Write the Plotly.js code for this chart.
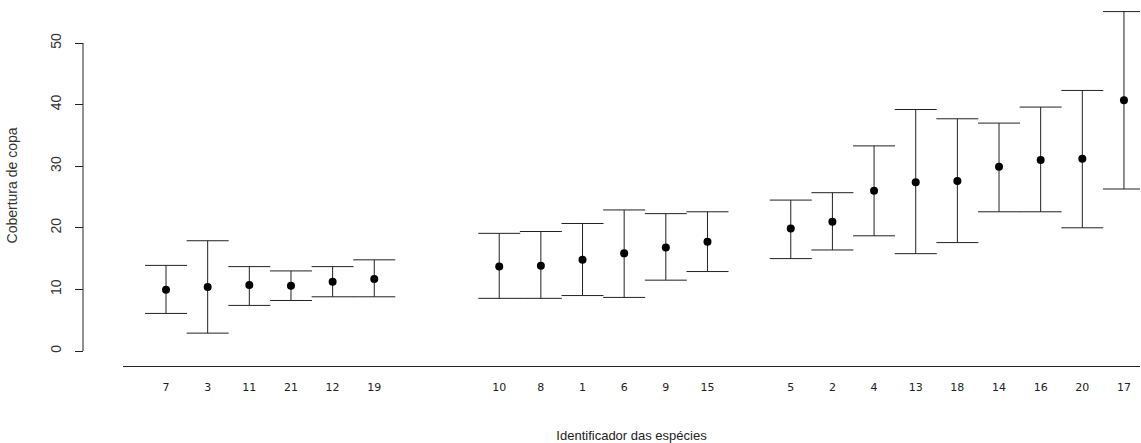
<!DOCTYPE html>
<html>
<head>
<meta charset="utf-8">
<script src="https://cdn.plot.ly/plotly-3.0.1.min.js"></script>
<style>html,body{margin:0;padding:0;background:#fff;}#chart{width:1141px;height:443px;}</style>
</head>
<body>
<div id="chart"></div>
<script>
// Category order on the x axis (gaps are empty slots)
const categoryOrder = ['7','3','11','21','12','19','gapA','gapB','10','8','1','6','9','15','gapC','5','2','4','13','18','14','16','20','17'];
const species = ['7','3','11','21','12','19','10','8','1','6','9','15','5','2','4','13','18','14','16','20','17'];
const tickLabels = ['7','3','11','21','12','19','10','8','1','6','9','15','5','2','4','13','18','14','16','20','17'];
const meanCover = [9.95,10.4,10.7,10.6,11.25,11.7,13.7,13.85,14.8,15.85,16.8,17.75,19.9,21.0,26.0,27.4,27.6,29.9,31.0,31.2,40.7];
const upperCover = [13.9,17.9,13.7,13.0,13.7,14.8,19.1,19.4,20.7,22.9,22.3,22.6,24.5,25.7,33.3,39.2,37.7,37.0,39.6,42.3,55.1];
const lowerCover = [6.1,2.9,7.4,8.2,8.8,8.8,8.55,8.55,9.0,8.7,11.5,12.9,15.0,16.4,18.7,15.8,17.6,22.6,22.6,20.0,26.3];
const yTicks = [0,10,20,30,40,50];

const errPlus = meanCover.map((m,i)=>upperCover[i]-m);
const errMinus = meanCover.map((m,i)=>m-lowerCover[i]);

const trace = {
  type:'scatter', mode:'markers',
  x: species, y: meanCover,
  marker:{color:'#000', size:8, symbol:'circle'},
  error_y:{type:'data', symmetric:false, array:errPlus, arrayminus:errMinus, color:'#222', thickness:1, width:21},
  hoverinfo:'x+y'
};

const layout = {
  width:1141, height:443,
  margin:{l:83, r:1, t:5, b:77},
  paper_bgcolor:'#fff', plot_bgcolor:'#fff',
  showlegend:false,
  font:{family:'Liberation Sans, Arial, sans-serif', color:'#333'},
  xaxis:{
    type:'category', categoryorder:'array', categoryarray:categoryOrder,
    domain:[40/1057, 1],
    range:[-1.033, 23.385],
    tickmode:'array', tickvals:species, ticktext:tickLabels,
    ticks:'', showgrid:false, zeroline:false,
    showline:true, linecolor:'#222', linewidth:1,
    tickfont:{family:'DejaVu Sans, Verdana, sans-serif', size:11, color:'#222'},
    ticklabelstandoff:11,
    title:{text:'Identificador das espécies', font:{family:'Liberation Sans, Arial, sans-serif', size:13, color:'#222'}, standoff:37}
  },
  yaxis:{
    anchor:'free', position:0,
    range:[-2.435, 56.17],
    tickmode:'array', tickvals:yTicks,
    ticks:'outside', ticklen:8, tickcolor:'#222', tickwidth:1,
    tickangle:-90, ticklabelstandoff:8,
    showgrid:false, zeroline:false, showline:false,
    tickfont:{family:'Liberation Sans, Arial, sans-serif', size:14, color:'#333'},
    title:{text:'Cobertura de copa', font:{family:'Liberation Sans, Arial, sans-serif', size:14, color:'#333'}, standoff:26}
  },
  shapes:[
    {type:'line', xref:'paper', yref:'y', x0:0, x1:0, y0:0, y1:50, line:{color:'#222', width:1}}
  ]
};

Plotly.newPlot('chart',[trace],layout,{displayModeBar:false, staticPlot:true});
</script>
</body>
</html>
